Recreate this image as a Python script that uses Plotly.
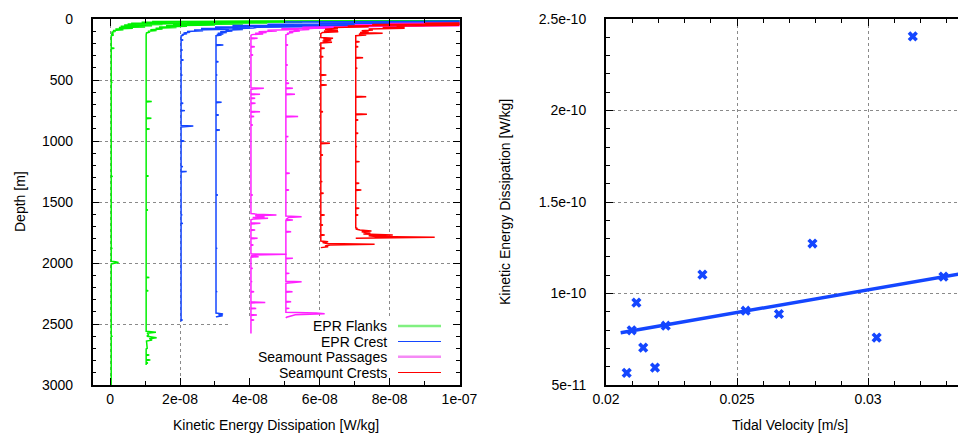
import plotly.graph_objects as go
from plotly.subplots import make_subplots

# ---- left panel: dissipation profiles, (depth [m], eps [1e-9 W/kg]) ----
# each profile is shifted right by a multiple of 1e-8 W/kg (gnuplot "using ($2+off)")
flanks1 = [(10, 150), (16, 60), (20, 12), (23, 41), (27, 9), (31, 30), (35, 6), (38, 22), (42, 5),
           (46, 15), (50, 4), (55, 12), (60, 3), (65, 10), (70, 2.5), (76, 6.5), (82, 1.5),
           (88, 3.8), (94, 0.8), (100, 1.6), (108, 0.4), (117, 0.9), (125, 0.3), (131, 1.0),
           (138, 0.3), (236, 0.3), (240, 1.2), (244, 0.3), (516, 0.3), (520, 0.6), (524, 0.3),
           (696, 0.3), (700, 0.5), (704, 0.3), (1286, 0.3), (1290, 0.7), (1294, 0.3),
           (1876, 0.3), (1880, 0.6), (1884, 0.3), (1986, 0.3), (1990, 1.5), (1996, 2.4),
           (2002, 1.2), (2008, 0.3), (2596, 0.3), (2600, 0.5), (2604, 0.3), (3000, 0.3)]

flanks2 = [(10, 150), (16, 70), (20, 20), (24, 45), (28, 12), (32, 35), (36, 9), (40, 28), (45, 8),
           (50, 20), (55, 6), (60, 12), (65, 4), (70, 9), (76, 3), (82, 5), (88, 1.5), (94, 3.3),
           (100, 0.8), (106, 1.4), (114, 0.4), (130, 0.3), (673, 0.3), (677, 1.9), (681, 0.3),
           (810, 0.3), (814, 1.8), (818, 0.3), (898, 0.3), (902, 1.3), (906, 0.3),
           (1283, 0.3), (1287, 1.0), (1291, 0.3), (1562, 0.3), (1566, 0.8), (1570, 0.3),
           (2114, 0.3), (2118, 1.2), (2122, 0.3), (2223, 0.3), (2227, 0.9), (2231, 0.3),
           (2560, 0.3), (2568, 3.1), (2575, 0.6), (2590, 1.0), (2600, 0.5), (2612, 3.3),
           (2620, 1.2), (2631, 2.0), (2640, 0.4), (2700, 0.6), (2705, 0.3), (2750, 0.3),
           (2754, 1.2), (2758, 0.3), (2791, 0.3), (2795, 1.5), (2799, 0.3), (2816, 0.3),
           (2820, 0.8), (2824, 0.3), (2836, 0.3)]

crest1 = [(10, 150), (18, 90), (24, 30), (30, 120), (36, 40), (40, 100), (44, 25), (48, 45),
          (54, 15), (60, 30), (66, 10), (72, 20), (78, 6), (84, 14), (90, 4), (96, 6.6), (102, 2),
          (108, 2.9), (114, 1), (120, 2), (127, 0.5), (131, 1.0), (140, 0.3), (168, 0.3),
          (172, 0.9), (176, 0.3), (250, 0.3), (254, 0.7), (258, 0.3), (332, 0.3), (336, 1.0),
          (340, 0.3), (456, 0.3), (460, 0.5), (464, 0.3), (687, 0.3), (691, 0.9), (695, 0.3),
          (747, 0.3), (751, 1.4), (755, 0.3), (873, 0.3), (877, 3.8), (882, 1.2), (886, 0.3),
          (996, 0.3), (1000, 1.2), (1004, 0.3), (1206, 0.3), (1210, 0.8), (1214, 0.3),
          (1247, 0.3), (1251, 1.9), (1255, 0.3), (1602, 0.3), (1606, 0.6), (1610, 0.3),
          (1671, 0.3), (1675, 0.8), (1679, 0.3), (1946, 0.3), (1950, 0.5), (1954, 0.3),
          (2368, 0.3), (2372, 0.5), (2376, 0.3), (2463, 0.3), (2467, 0.7), (2471, 0.3),
          (2480, 0.3)]

crest2 = [(10, 150), (20, 60), (28, 90), (34, 30), (38, 110), (44, 35), (50, 60), (56, 20),
          (62, 35), (68, 12), (74, 11), (80, 5), (86, 8), (92, 3), (98, 5), (104, 1.5), (110, 3.4),
          (116, 0.8), (122, 2.4), (128, 0.5), (131, 1.9), (137, 0.3), (209, 0.3), (213, 2.4),
          (217, 0.3), (346, 0.3), (350, 1.0), (354, 0.3), (455, 0.3), (459, 0.6), (463, 0.3),
          (679, 0.3), (683, 1.9), (687, 0.3), (783, 0.3), (787, 1.1), (791, 0.3), (906, 0.3),
          (910, 1.4), (914, 0.3), (1439, 0.3), (1443, 0.8), (1447, 0.3), (1876, 0.3),
          (1880, 0.6), (1884, 0.3), (2067, 0.3), (2071, 0.5), (2075, 0.3), (2231, 0.3),
          (2235, 0.6), (2239, 0.3), (2368, 0.3), (2372, 0.4), (2376, 0.3), (2410, 0.3),
          (2418, 2.3), (2425, 1.0), (2432, 2.2), (2440, 0.5), (2444, 0.3)]

passage1 = [(10, 150), (18, 100), (24, 60), (30, 95), (36, 40), (42, 70), (48, 30), (55, 50),
            (62, 33), (68, 15), (74, 24), (80, 9), (86, 14), (92, 5), (98, 7.7), (104, 2.5),
            (110, 4.8), (116, 1.5), (122, 3.8), (128, 0.6), (135, 0.3), (154, 0.3), (158, 2.2),
            (162, 0.3), (223, 0.3), (227, 1.4), (231, 0.3), (291, 0.3), (295, 0.9), (299, 0.3),
            (564, 0.3), (568, 4.0), (574, 1.0), (578, 0.3), (613, 0.3), (617, 2.9), (621, 0.3),
            (646, 0.3), (650, 1.5), (654, 0.3), (687, 0.3), (691, 1.6), (695, 0.3), (756, 0.3),
            (760, 2.9), (764, 0.3), (796, 0.3), (800, 1.2), (804, 0.3), (865, 0.3), (869, 0.8),
            (873, 0.3), (1439, 0.3), (1443, 0.8), (1447, 0.3), (1595, 0.3), (1600, 2.0),
            (1607, 7.6), (1613, 1.5), (1620, 4.2), (1627, 0.8), (1634, 5.2), (1640, 1.0),
            (1646, 0.3), (1671, 0.3), (1675, 3.0), (1680, 0.3), (1726, 0.3), (1730, 1.5),
            (1734, 0.3), (1794, 0.3), (1798, 2.2), (1802, 0.3), (1848, 0.3), (1852, 1.0),
            (1856, 0.3), (1925, 0.3), (1929, 10.5), (1934, 0.8), (1944, 0.3), (1948, 2.5),
            (1952, 0.3), (2040, 0.3), (2044, 0.8), (2048, 0.3), (2149, 0.3), (2153, 0.6),
            (2157, 0.3), (2231, 0.3), (2235, 1.2), (2239, 0.3), (2319, 0.3), (2323, 4.4),
            (2327, 0.3), (2368, 0.3), (2372, 1.8), (2376, 0.3), (2422, 0.3), (2426, 2.0),
            (2430, 0.3), (2463, 0.3), (2467, 1.2), (2471, 0.3), (2577, 0.3)]

passage2 = [(10, 150), (18, 110), (24, 70), (30, 100), (36, 50), (42, 80), (48, 35), (55, 55),
            (62, 20), (68, 12), (74, 10), (80, 5), (86, 7), (92, 2.5), (98, 4.3), (104, 1.2),
            (110, 2.4), (116, 0.6), (122, 1.2), (130, 0.3), (209, 0.3), (213, 0.9), (217, 0.3),
            (373, 0.3), (377, 0.8), (381, 0.3), (523, 0.3), (527, 1.2), (531, 0.3), (564, 0.3),
            (568, 2.3), (572, 0.3), (613, 0.3), (617, 2.9), (621, 0.3), (796, 0.3), (800, 3.8),
            (804, 0.3), (960, 0.3), (964, 1.0), (968, 0.3), (1261, 0.3), (1265, 1.4),
            (1269, 0.3), (1398, 0.3), (1402, 1.2), (1406, 0.3), (1614, 0.3), (1620, 4.8),
            (1628, 1.0), (1644, 0.3), (1648, 2.3), (1652, 0.3), (1739, 0.3), (1743, 1.8),
            (1747, 0.3), (1958, 0.3), (1962, 2.3), (1966, 0.3), (2081, 0.3), (2085, 1.3),
            (2089, 0.3), (2149, 0.3), (2153, 4.8), (2160, 2.5), (2166, 0.3), (2231, 0.3),
            (2235, 2.2), (2239, 0.3), (2313, 0.3), (2317, 1.8), (2321, 0.3), (2368, 0.3),
            (2372, 1.3), (2376, 0.3), (2404, 0.3), (2410, 9.0), (2416, 11.4), (2424, 3.0),
            (2434, 1.2), (2444, 0.5), (2451, 0.3)]

smcrest1 = [(10, 150), (16, 120), (22, 60), (28, 90), (34, 30), (40, 45), (46, 15), (52, 25),
            (58, 8), (64, 14), (70, 4), (76, 5.2), (84, 1.5), (92, 5.2), (98, 1.2), (104, 5.3),
            (110, 0.8), (120, 0.3), (152, 0.3), (158, 3.8), (164, 1.0), (172, 3.3), (180, 0.8),
            (191, 3.5), (197, 0.3), (236, 0.3), (240, 1.4), (244, 0.3), (305, 0.3), (309, 1.0),
            (313, 0.3), (455, 0.3), (459, 1.9), (463, 0.3), (537, 0.3), (541, 2.0), (545, 0.3),
            (756, 0.3), (760, 0.9), (764, 0.3), (1015, 0.3), (1019, 2.9), (1023, 0.3),
            (1111, 0.3), (1115, 0.9), (1119, 0.3), (1329, 0.3), (1333, 0.7), (1337, 0.3),
            (1425, 0.3), (1429, 1.1), (1433, 0.3), (1603, 0.3), (1607, 1.4), (1611, 0.3),
            (1685, 0.3), (1689, 0.9), (1693, 0.3), (1766, 0.3), (1770, 1.4), (1774, 0.3),
            (1820, 0.3), (1825, 2.4), (1832, 0.8), (1840, 2.0), (1847, 15.7), (1853, 3.0),
            (1860, 1.5), (1866, 2.4), (1874, 0.3)]

smcrest2 = [(10, 150), (16, 130), (22, 80), (28, 110), (34, 40), (40, 60), (46, 20), (52, 30),
            (58, 12), (64, 14.3), (70, 8), (76, 14.3), (82, 4), (90, 5.2), (96, 2), (104, 4),
            (110, 1.5), (117, 8.0), (123, 1.2), (131, 3.3), (137, 0.3), (182, 0.3), (186, 1.4),
            (190, 0.3), (223, 0.3), (227, 1.0), (231, 0.3), (313, 0.3), (317, 2.4), (321, 0.3),
            (400, 0.3), (404, 0.7), (408, 0.3), (633, 0.3), (637, 3.3), (641, 0.3), (777, 0.3),
            (781, 3.5), (785, 0.3), (824, 0.3), (828, 1.0), (832, 0.3), (933, 0.3), (937, 1.0),
            (941, 0.3), (1042, 0.3), (1046, 0.6), (1050, 0.3), (1165, 0.3), (1169, 1.4),
            (1173, 0.3), (1343, 0.3), (1347, 1.3), (1351, 0.3), (1398, 0.3), (1402, 1.9),
            (1406, 0.3), (1548, 0.3), (1552, 1.3), (1556, 0.3), (1603, 0.3), (1607, 1.0),
            (1611, 0.3), (1711, 0.3), (1716, 0.8), (1722, 0.3), (1730, 1.5), (1738, 4.8),
            (1744, 2.0), (1757, 4.5), (1763, 2.5), (1770, 10.9), (1776, 4.0), (1783, 6.0),
            (1789, 22.9), (1795, 2.0), (1798, 0.3)]

profile_offsets = [0, 1e-8, 2e-8, 3e-8, 4e-8, 5e-8, 6e-8, 7e-8]

# ---- right panel: dissipation vs tidal velocity ----
tidal_velocity = [0.02079, 0.02098, 0.02116, 0.02142, 0.02187, 0.02228, 0.02368,
                  0.02533, 0.02660, 0.02788, 0.03033, 0.03171, 0.03288]
mean_dissipation = [5.66e-11, 7.99e-11, 9.50e-11, 7.04e-11, 5.95e-11, 8.24e-11, 1.103e-10,
                    9.06e-11, 8.88e-11, 1.273e-10, 7.59e-11, 2.405e-10, 1.092e-10]
fit_velocity = [0.02056, 0.0335]
fit_dissipation = [7.86e-11, 1.107e-10]

# tick labels (gnuplot style)
left_xticks = [0, 2e-8, 4e-8, 6e-8, 8e-8, 1e-7]
left_xlabels = ["0", "2e-08", "4e-08", "6e-08", "8e-08", "1e-07"]
left_yticks = [0, 500, 1000, 1500, 2000, 2500, 3000]
right_xticks = [0.02, 0.025, 0.03]
right_xlabels = ["0.02", "0.025", "0.03"]
right_yticks = [5e-11, 1e-10, 1.5e-10, 2e-10, 2.5e-10]
right_ylabels = ["5e-11", "1e-10", "1.5e-10", "2e-10", "2.5e-10"]

legend_names = ["EPR Flanks", "EPR Crest", "Seamount Passages", "Seamount Crests"]

GREEN = "#00f000"
BLUE = "#1446ff"
MAGENTA = "#ff22ff"
RED = "#ff0000"
FONT = "Liberation Sans, Arial, sans-serif"

profiles = [(flanks1, GREEN), (flanks2, GREEN), (crest1, BLUE), (crest2, BLUE),
            (passage1, MAGENTA), (passage2, MAGENTA), (smcrest1, RED), (smcrest2, RED)]

fig = make_subplots(rows=1, cols=2)

for (prof, col), off in zip(profiles, profile_offsets):
    fig.add_trace(go.Scatter(x=[off + e * 1e-9 for d, e in prof], y=[d for d, e in prof],
                             mode="lines", line=dict(color=col, width=1.5), showlegend=False,
                             hoverinfo="skip"), row=1, col=1)

fig.add_trace(go.Scatter(x=fit_velocity, y=fit_dissipation, mode="lines",
                         line=dict(color=BLUE, width=3.5), showlegend=False), row=1, col=2)
fig.add_trace(go.Scatter(x=tidal_velocity, y=mean_dissipation, mode="markers",
                         marker=dict(symbol="x", size=9, color=BLUE, line=dict(width=0)),
                         showlegend=False), row=1, col=2)

# page body has an 8px margin, so the figure is 8px smaller and everything is placed
# in screen pixels minus that offset
OFF = 8
W, H = 966 - OFF, 435 - OFF


def sx(px):
    return (px - OFF) / W


def sy(py):
    return 1 - (py - OFF) / H


L_X0, L_X1 = 92.7, 459.5
R_X0 = 606
Y_TOP, Y_BOT = 19, 385

axis_common = dict(ticks="inside", mirror="ticks", linecolor="black", tickcolor="black",
                   ticklen=7, showgrid=True, gridcolor="#8a8a8a", griddash="dot", gridwidth=1,
                   zeroline=False, tickfont=dict(family=FONT, size=14, color="black"),
                   showline=True)

fig.update_layout(
    width=W, height=H, template="none",
    margin=dict(l=0, r=0, t=0, b=0),
    paper_bgcolor="white", plot_bgcolor="white",
    xaxis=dict(domain=[sx(L_X0), sx(L_X1)], range=[-5e-9, 1e-7], tickmode="array",
               tickvals=left_xticks, ticktext=left_xlabels, linewidth=1.5, ticklabelstandoff=0,
               minor=dict(tickmode="linear", tick0=0, dtick=1e-8, ticks="inside", ticklen=4,
                          tickcolor="black", showgrid=False), **axis_common),
    yaxis=dict(domain=[sy(Y_BOT), sy(Y_TOP)], range=[3000, 0], tickmode="array",
               tickvals=left_yticks, linewidth=1.5, ticklabelstandoff=15,
               minor=dict(tickmode="linear", tick0=0, dtick=100, ticks="inside", ticklen=4,
                          tickcolor="black", showgrid=False), **axis_common),
    xaxis2=dict(domain=[sx(R_X0), 1.0], range=[0.02, 0.02 + (966 - R_X0) / 131 * 0.005],
                tickmode="array", tickvals=right_xticks, ticktext=right_xlabels, linewidth=2,
                ticklabelstandoff=0,
                minor=dict(tickmode="linear", tick0=0.02, dtick=0.001, ticks="inside", ticklen=4,
                           tickcolor="black", showgrid=False), **axis_common),
    yaxis2=dict(domain=[sy(Y_BOT), sy(Y_TOP)], range=[5e-11, 2.5e-10], tickmode="array",
                tickvals=right_yticks, ticktext=right_ylabels, linewidth=2, ticklabelstandoff=15,
                minor=dict(tickmode="linear", tick0=5e-11, dtick=1e-11, ticks="inside", ticklen=4,
                           tickcolor="black", showgrid=False), **axis_common),
)
fig.update_yaxes(mirror=False, row=1, col=2)

# axis titles
title_font = dict(family=FONT, size=14, color="black")
fig.add_annotation(text="Kinetic Energy Dissipation [W/kg]", x=sx(276), y=sy(425),
                   xref="paper", yref="paper", showarrow=False, font=title_font,
                   xanchor="center", yanchor="middle")
fig.add_annotation(text="Depth [m]", x=sx(20), y=sy(202), textangle=-90,
                   xref="paper", yref="paper", showarrow=False, font=title_font,
                   xanchor="center", yanchor="middle")
fig.add_annotation(text="Tidal Velocity [m/s]", x=sx(790), y=sy(425),
                   xref="paper", yref="paper", showarrow=False, font=title_font,
                   xanchor="center", yanchor="middle")
fig.add_annotation(text="Kinetic Energy Dissipation [W/kg]", x=sx(505), y=sy(202),
                   textangle=-90, xref="paper", yref="paper", showarrow=False, font=title_font,
                   xanchor="center", yanchor="middle")

# opaque key box: hides the grid but sits under the profiles
fig.add_shape(type="rect", xref="x", yref="y", x0=3.43e-8, x1=0.995e-7, y0=2434, y1=2995,
              fillcolor="white", line=dict(width=0), layer="between")
key_style = [("#80f080", 2.5), (BLUE, 1.2), ("#f58af5", 2.5), (RED, 1.2)]
key_y = [326, 341.5, 356.7, 372.5]
for name, (kc, kw), ky in zip(legend_names, key_style, key_y):
    fig.add_annotation(text=name, x=sx(389), y=sy(ky), xref="paper", yref="paper",
                       showarrow=False, font=title_font, xanchor="right", yanchor="middle")
    fig.add_shape(type="line", xref="paper", yref="paper", x0=sx(398), x1=sx(441),
                  y0=sy(ky), y1=sy(ky), line=dict(color=kc, width=kw))

fig.write_html("out.html")
